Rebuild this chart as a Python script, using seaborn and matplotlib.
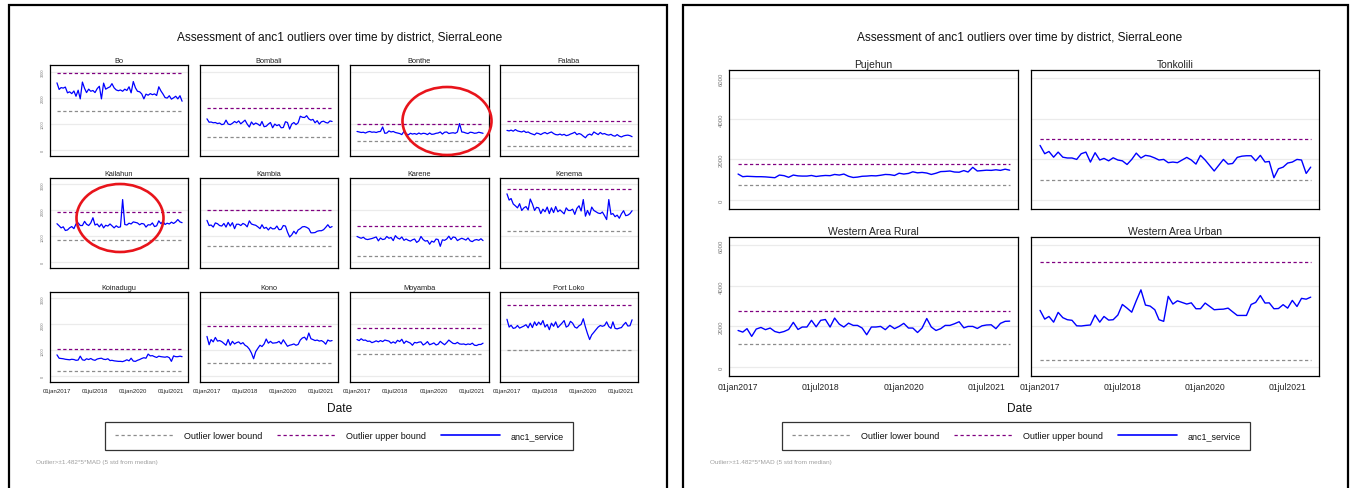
import pandas as pd
import numpy as np
import matplotlib
matplotlib.use('Agg')
import matplotlib.pyplot as plt
from matplotlib.lines import Line2D
from matplotlib.patches import Rectangle, Ellipse
import seaborn as sns

sns.set_style('white')
plt.rcParams['font.family'] = ['Liberation Sans', 'DejaVu Sans']

# ----------------------------
# Data (monthly anc1_service, Jan 2017 - Dec 2021)
# ----------------------------
dates = pd.date_range('2017-01-01', periods=60, freq='MS')

bo = [2570, 2320, 2390, 2370, 2410, 2190, 2230, 2160, 2260, 2060,
      2290, 1960, 2600, 2360, 2200, 2330, 2250, 2280, 2200, 2350,
      2440, 1960, 2560, 2330, 2380, 2420, 2540, 2380, 2300, 2270,
      2300, 2250, 2330, 2280, 2420, 2190, 2620, 2380, 2250, 2230,
      2150, 1960, 2140, 2100, 2160, 2120, 2150, 2090, 2420, 2260,
      2150, 2010, 1990, 2080, 1950, 2000, 2060, 1960, 2080, 1870]
bombali = [1200, 1070, 1080, 1050, 1060, 1020, 1040, 980, 1000, 1150,
           1000, 980, 1030, 1100, 1050, 1120, 1010, 1080, 1150, 1000,
           890, 1080, 980, 1040, 1000, 940, 1100, 900, 920, 1000,
           1060, 860, 1000, 940, 980, 860, 870, 1090, 1060, 810,
           1000, 1060, 980, 1050, 1300, 1260, 1250, 1320, 1200, 1150,
           1180, 1050, 1130, 1000, 1090, 1110, 1060, 1040, 1120, 1100]
bonthe = [720, 700, 680, 690, 660, 700, 720, 690, 700, 680,
          710, 720, 890, 650, 660, 740, 700, 720, 680, 660,
          640, 600, 720, 630, 590, 650, 620, 640, 610, 660,
          620, 650, 640, 600, 660, 610, 620, 650, 660, 700,
          620, 690, 700, 640, 660, 670, 650, 700, 1020, 700,
          690, 660, 640, 690, 680, 650, 660, 690, 670, 650]
falaba = [760, 740, 770, 730, 790, 740, 720, 700, 740, 680,
          700, 650, 620, 590, 660, 640, 600, 650, 680, 630,
          670, 700, 640, 600, 590, 620, 580, 610, 560, 580,
          620, 650, 690, 600, 640, 610, 540, 480, 580, 620,
          580, 700, 650, 600, 680, 620, 640, 600, 580, 610,
          560, 540, 600, 540, 510, 550, 570, 580, 560, 520]
kailahun = [1490, 1410, 1330, 1370, 1230, 1250, 1330, 1380, 1300, 1480,
            1520, 1420, 1420, 1580, 1470, 1420, 1520, 1720, 1440, 1480,
            1370, 1480, 1330, 1430, 1400, 1480, 1410, 1330, 1410, 1350,
            1370, 2420, 1460, 1440, 1510, 1480, 1560, 1540, 1520, 1450,
            1500, 1480, 1360, 1450, 1440, 1520, 1380, 1410, 1600, 1490,
            1580, 1460, 1510, 1480, 1550, 1500, 1560, 1650, 1560, 1530]
kambia = [1620, 1420, 1440, 1360, 1520, 1490, 1420, 1400, 1500, 1360,
          1540, 1400, 1530, 1300, 1470, 1470, 1420, 1500, 1460, 1370,
          1600, 1480, 1450, 1430, 1370, 1300, 1450, 1310, 1350, 1250,
          1350, 1290, 1300, 1400, 1260, 1270, 1420, 1400, 1170, 980,
          1060, 1200, 1100, 1250, 1300, 1370, 1380, 1350, 1300, 1140,
          1140, 1150, 1200, 1220, 1220, 1260, 1350, 1450, 1340, 1380]
karene = [1000, 960, 930, 970, 900, 880, 900, 920, 950, 980,
          830, 940, 880, 900, 1000, 930, 960, 840, 1030, 940,
          900, 980, 850, 900, 850, 820, 870, 900, 770, 830,
          1000, 880, 820, 840, 700, 820, 780, 900, 880, 620,
          870, 850, 900, 1010, 880, 980, 960, 840, 890, 930,
          900, 860, 940, 830, 800, 860, 880, 850, 910, 840]
kenema = [2640, 2400, 2460, 2250, 2180, 2100, 2260, 2000, 2100, 2150,
          2020, 2440, 2250, 2000, 2120, 2100, 1880, 2050, 1950, 2130,
          1880, 2100, 1920, 2150, 1950, 2020, 1950, 1870, 2100, 2000,
          2000, 2050, 1850, 2080, 2180, 1980, 2420, 1780, 2000, 1820,
          2130, 2000, 1950, 1900, 1880, 1940, 1800, 1650, 2420, 1850,
          1880, 1760, 1820, 1700, 1870, 1990, 1800, 1820, 1880, 1990]
koinadugu = [830, 700, 690, 680, 660, 650, 640, 660, 650, 620,
             630, 780, 640, 620, 680, 650, 690, 640, 620, 670,
             690, 700, 660, 650, 680, 610, 620, 600, 590, 580,
             580, 570, 600, 640, 600, 700, 590, 580, 620, 650,
             690, 720, 700, 860, 790, 800, 760, 730, 780, 760,
             750, 740, 760, 720, 580, 790, 760, 760, 780, 760]
kono = [1540, 1220, 1420, 1330, 1500, 1360, 1380, 1340, 1270, 1200,
        1420, 1200, 1350, 1250, 1300, 1330, 1250, 1300, 1200, 1150,
        1050, 900, 680, 950, 1080, 1200, 1150, 1250, 1440, 1280,
        1350, 1280, 1290, 1300, 1350, 1250, 1410, 1280, 1160, 1200,
        1220, 1250, 1200, 1230, 1400, 1480, 1510, 1400, 1670, 1450,
        1420, 1380, 1400, 1360, 1380, 1330, 1240, 1400, 1360, 1380]
moyamba = [1420, 1380, 1450, 1390, 1400, 1350, 1360, 1300, 1330, 1370,
           1330, 1380, 1340, 1400, 1380, 1360, 1280, 1330, 1280, 1390,
           1340, 1430, 1270, 1360, 1320, 1280, 1200, 1310, 1290, 1320,
           1330, 1210, 1260, 1340, 1220, 1250, 1290, 1210, 1240, 1350,
           1280, 1220, 1300, 1400, 1330, 1270, 1260, 1310, 1250, 1240,
           1250, 1220, 1250, 1230, 1280, 1200, 1190, 1230, 1230, 1280]
port_loko = [2200, 1900, 1970, 1850, 1870, 1960, 1860, 1900, 1940, 1990,
             1870, 2050, 1880, 2100, 1960, 2090, 1990, 2150, 1900, 2000,
             1800, 2050, 1930, 2100, 1880, 1970, 2050, 2150, 1900, 1950,
             2120, 2050, 1900, 1860, 1950, 2000, 2220, 1900, 1650, 1420,
             1600, 1700, 1800, 1900, 1960, 1930, 1960, 2100, 1920, 1850,
             2100, 1850, 1830, 1860, 1880, 1990, 2080, 1940, 1950, 2180]
pujehun = [1280, 1150, 1170, 1160, 1150, 1150, 1140, 1120, 1100, 1230,
           1200, 1120, 1230, 1190, 1180, 1180, 1210, 1160, 1190, 1210,
           1200, 1260, 1230, 1280, 1170, 1110, 1130, 1170, 1180, 1200,
           1190, 1220, 1260, 1250, 1210, 1320, 1280, 1310, 1390, 1340,
           1360, 1330, 1260, 1320, 1400, 1410, 1430, 1380, 1370, 1450,
           1380, 1610, 1430, 1450, 1470, 1460, 1490, 1460, 1520, 1470]
tonkolili = [2690, 2280, 2390, 2110, 2360, 2110, 2070, 2070, 2000, 2280,
             2360, 1870, 2330, 1970, 2050, 1930, 2080, 1970, 1930, 1750,
             2000, 2310, 2070, 2200, 2160, 2070, 1970, 2000, 1840, 1870,
             1840, 1970, 2100, 1970, 1770, 2200, 1970, 1690, 1430, 1720,
             2000, 1770, 1800, 2100, 2160, 2180, 2180, 1930, 2200, 1870,
             1900, 1100, 1540, 1620, 1820, 1870, 2000, 1970, 1310, 1620]
western_rural = [1800, 1720, 1890, 1510, 1870, 1950, 1840, 1920, 1750, 1690,
                 1750, 1850, 2200, 1850, 1970, 1970, 2300, 1980, 2300, 2340,
                 1970, 2410, 2110, 1970, 2160, 2050, 2050, 1920, 1590, 1970,
                 1970, 2000, 1840, 2050, 1890, 2000, 2150, 1920, 1920, 1700,
                 1920, 2390, 1970, 1800, 1890, 2050, 2050, 2130, 2230, 1930,
                 2000, 2000, 1900, 2030, 2070, 2080, 1890, 2150, 2250, 2260]
western_urban = [2790, 2360, 2490, 2210, 2690, 2430, 2330, 2300, 2030, 2020,
                 2050, 2070, 2560, 2210, 2490, 2310, 2330, 2560, 3080, 2900,
                 2700, 3260, 3800, 3050, 3000, 2820, 2330, 2250, 3480, 3100,
                 3260, 3180, 3100, 3160, 2870, 2870, 3150, 2980, 2820, 2840,
                 2850, 2900, 2720, 2540, 2540, 2540, 3080, 3180, 3520, 3150,
                 3160, 2870, 2880, 3070, 2900, 3280, 2980, 3380, 3340, 3440]

left_names = ['Bo', 'Bombali', 'Bonthe', 'Falaba', 'Kailahun', 'Kambia',
              'Karene', 'Kenema', 'Koinadugu', 'Kono', 'Moyamba', 'Port Loko']
left_values = [bo, bombali, bonthe, falaba, kailahun, kambia,
               karene, kenema, koinadugu, kono, moyamba, port_loko]
left_lower = [1500, 490, 355, 180, 870, 650, 240, 1200, 190, 530, 870, 1000]
left_upper = [2960, 1600, 990, 1110, 1940, 2030, 1410, 2810, 1050, 1940, 1880, 2760]

right_names = ['Pujehun', 'Tonkolili', 'Western Area Rural', 'Western Area Urban']
right_values = [pujehun, tonkolili, western_rural, western_urban]
right_lower = [720, 1000, 1150, 330]
right_upper = [1750, 2990, 2740, 5170]

xtick_dates = pd.to_datetime(['2017-01-01', '2018-07-01', '2020-01-01', '2021-07-01'])
xtick_labels = ['01jan2017', '01jul2018', '01jan2020', '01jul2021']

title = 'Assessment of anc1 outliers over time by district, SierraLeone'
note = 'Outlier>\u00b11.482*5*MAD (5 std from median)'

LOW_C = '#8c8c8c'
UP_C = '#800080'
LINE_C = '#0000ff'

W, H = 1352, 489
fig = plt.figure(figsize=(W / 100, H / 100), dpi=100)


def px_axes(x0, y0, x1, y1):
    return fig.add_axes([x0 / W, 1 - y1 / H, (x1 - x0) / W, (y1 - y0) / H])


def draw_panel(names, values, lower, upper, cols, rows, ylim, yticks,
               xpad, title_fs, tick_fs, ytick_fs, lw):
    for i, name in enumerate(names):
        r, c = divmod(i, len(cols))
        ax = px_axes(cols[c][0], rows[r][0], cols[c][1], rows[r][1])
        df = pd.DataFrame({'date': dates, 'anc1_service': values[i]})
        ax.hlines(lower[i], dates[0], dates[-1], colors=LOW_C,
                  linestyles=(0, (2.6, 2.0)), lw=0.9)
        ax.hlines(upper[i], dates[0], dates[-1], colors=UP_C,
                  linestyles=(0, (2.6, 2.0)), lw=0.9)
        sns.lineplot(data=df, x='date', y='anc1_service', ax=ax,
                     color=LINE_C, lw=lw)
        ax.set_xlim(dates[0] - pd.Timedelta(days=xpad[0]),
                    dates[-1] + pd.Timedelta(days=xpad[1]))
        ax.set_ylim(*ylim)
        ax.set_yticks(yticks)
        ax.set_yticklabels([str(v) for v in yticks])
        ax.set_xticks(xtick_dates)
        ax.set_xticklabels(xtick_labels)
        ax.set_xlabel('')
        ax.set_ylabel('')
        ax.yaxis.grid(True, color='#ebebeb', lw=0.9)
        ax.set_axisbelow(True)
        for s in ax.spines.values():
            s.set_color('black')
            s.set_linewidth(0.9)
        ax.set_title(name, fontsize=title_fs, color='#222222', pad=2.5)
        ax.tick_params(axis='y', labelsize=ytick_fs, labelcolor='#777777',
                       length=2.5, width=0.6, color='#555555', pad=1.5)
        ax.tick_params(axis='x', labelsize=tick_fs, labelcolor='#222222',
                       length=2.5, width=0.6, color='#333333', pad=2)
        plt.setp(ax.get_yticklabels(), rotation=90, va='center')
        if c != 0:
            ax.tick_params(axis='y', left=False, labelleft=False)
        if r != len(rows) - 1:
            ax.tick_params(axis='x', bottom=False, labelbottom=False)


# ----------------------------
# Left panel: 12 districts
# ----------------------------
draw_panel(left_names, left_values, left_lower, left_upper,
           cols=[(50, 188), (200, 338), (350, 489), (500, 638)],
           rows=[(66, 157), (179, 269), (293, 383)],
           ylim=(-215, 3250), yticks=[0, 1000, 2000, 3000],
           xpad=(100, 85), title_fs=5.3, tick_fs=4.3, ytick_fs=2.8, lw=0.9)

# ----------------------------
# Right panel: 4 districts
# ----------------------------
draw_panel(right_names, right_values, right_lower, right_upper,
           cols=[(729, 1018), (1031, 1319)],
           rows=[(71, 210), (238, 377)],
           ylim=(-440, 6400), yticks=[0, 2000, 4000, 6000],
           xpad=(60, 55), title_fs=7.5, tick_fs=6.2, ytick_fs=4.3, lw=1.0)

# frames, titles, legends, notes
for x0, x1, cx in [(9, 667, 340), (683, 1348, 1020)]:
    fig.patches.append(Rectangle((x0 / W, -0.05), (x1 - x0) / W, 1 - 6 / H + 0.05,
                                 transform=fig.transFigure, fill=False,
                                 ec='black', lw=1.6))
    fig.text(cx / W, 1 - 38 / H, title, ha='center', va='center',
             fontsize=8.6, color='#111111')
    fig.text(cx / W, 1 - 409 / H, 'Date', ha='center', va='center',
             fontsize=8.6, color='#111111')
    fig.text((x0 + 27) / W, 1 - 463 / H, note, ha='left', va='center',
             fontsize=4.6, color='#a0a0a0')

# red highlight circles (Bonthe and Kailahun spikes)
for ex, ey, ew, eh in [(447, 122, 89, 68), (120, 219, 87, 68)]:
    fig.patches.append(Ellipse((ex / W, 1 - ey / H), ew / W, eh / H,
                               transform=fig.transFigure, fill=False,
                               ec='#e8141b', lw=1.9))

handles = [Line2D([], [], color=LOW_C, lw=0.9, ls=(0, (2.6, 2.2))),
           Line2D([], [], color=UP_C, lw=0.9, ls=(0, (2.6, 2.2))),
           Line2D([], [], color=LINE_C, lw=1.2)]
labels = ['Outlier lower bound', 'Outlier upper bound', 'anc1_service']
for cx in [339, 1016]:
    leg = fig.legend(handles, labels, loc='center', ncol=3,
                     bbox_to_anchor=(cx / W, 1 - 437 / H), fontsize=6.5,
                     frameon=True, fancybox=False, edgecolor='black',
                     handlelength=6.5, handletextpad=1.2, columnspacing=1.6,
                     borderpad=1.1)
    leg.get_frame().set_linewidth(0.9)
    for t in leg.get_texts():
        t.set_color('#111111')

plt.savefig('out.png', dpi=100)
